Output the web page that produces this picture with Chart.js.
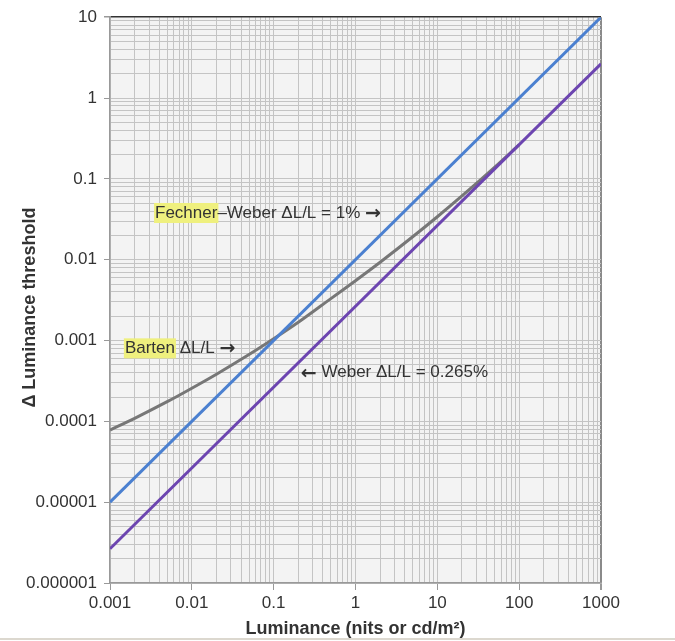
<!DOCTYPE html>
<html>
<head>
<meta charset="utf-8">
<script src="https://cdn.jsdelivr.net/npm/chart.js@4/dist/chart.umd.min.js"></script>
<style>
  html, body { margin: 0; padding: 0; background: #fff; }
  #wrap { width: 675px; height: 641px; position: relative; }
  #wrap canvas { display: block; }
  #sep { width: 675px; height: 2px; background: #dcd8cf; }
</style>
</head>
<body>
<div id="wrap">
  <canvas id="c" width="675" height="638"></canvas>
  <div id="sep"></div>
</div>
<script>
// ---- Data ----
const lineX = [0.001, 1000];
const fechnerWeber = [0.00001, 10];          // ΔL/L = 1%
const weber = [0.00000265, 2.65];            // ΔL/L = 0.265%
const bartenX = [0.001, 0.002, 0.005, 0.01, 0.02, 0.05, 0.1, 0.2, 0.5, 1, 2, 5, 10, 20, 50, 100];
const bartenY = [0.000078, 0.000109, 0.000175, 0.000257, 0.000383, 0.00067, 0.00105, 0.00168, 0.0033, 0.0055, 0.0093, 0.0192, 0.0340, 0.0615, 0.139, 0.265];
const xTickLabels = ['0.001', '0.01', '0.1', '1', '10', '100', '1000'];
const yTickLabels = ['0.000001', '0.00001', '0.0001', '0.001', '0.01', '0.1', '1', '10'];
const xTitle = 'Luminance (nits or cd/m\u00B2)';
const yTitle = '\u0394 Luminance threshold';
const notes = [
  { text: 'Fechner\u2013Weber \u0394L/L = 1% \u2192', highlight: 'Fechner', x: 0.00355, y: 0.0378 },
  { text: 'Barten \u0394L/L \u2192', highlight: 'Barten', x: 0.00152, y: 0.00080 },
  { text: '\u2190 Weber \u0394L/L = 0.265%', highlight: null, x: 0.215, y: 0.00040 }
];

// ---- helpers ----
function logTicks(minExp, maxExp) {
  const out = [];
  for (let e = minExp; e < maxExp; e++) {
    for (let m = 1; m <= 9; m++) out.push(Number((m * Math.pow(10, e)).toPrecision(12)));
  }
  out.push(Number(Math.pow(10, maxExp).toPrecision(12)));
  return out;
}
function isDecade(v) {
  const l = Math.log10(v);
  return Math.abs(l - Math.round(l)) < 1e-9;
}
const pts = (xs, ys) => xs.map((x, i) => ({ x: x, y: ys[i] }));

const FONT = '"Liberation Sans", Arial, Helvetica, sans-serif';
const ARROW_FONT = 'bold 19px "DejaVu Sans", sans-serif';

const bgPlugin = {
  id: 'bg',
  beforeDraw(chart) {
    const { ctx, chartArea: a } = chart;
    ctx.save();
    ctx.fillStyle = '#f3f3f3';
    ctx.fillRect(a.left, a.top, a.right - a.left, a.bottom - a.top);
    ctx.restore();
  }
};

const notePlugin = {
  id: 'notes',
  afterDatasetsDraw(chart) {
    const { ctx } = chart;
    const xs = chart.scales.x, ys = chart.scales.y;
    ctx.save();
    ctx.textBaseline = 'middle';
    ctx.textAlign = 'left';
    notes.forEach(n => {
      const px = xs.getPixelForValue(n.x), py = ys.getPixelForValue(n.y);
      if (n.highlight) {
        ctx.font = '17px ' + FONT;
        const w = ctx.measureText(n.highlight).width;
        ctx.fillStyle = '#eff07e';
        ctx.fillRect(px - 1, py - 10, w + 2, 20);
      }
      // split into runs: arrows drawn with a font whose arrow glyph is larger
      const runs = [];
      for (const ch of n.text) {
        const isArrow = ch === '\u2192' || ch === '\u2190';
        const last = runs[runs.length - 1];
        if (last && last.arrow === isArrow) last.s += ch; else runs.push({ s: ch, arrow: isArrow });
      }
      let cx = px;
      ctx.fillStyle = '#333333';
      runs.forEach(r => {
        ctx.font = r.arrow ? ARROW_FONT : ('17px ' + FONT);
        ctx.fillText(r.s, cx, r.arrow ? py + 1 : py);
        cx += ctx.measureText(r.s).width;
      });
    });
    ctx.restore();
  }
};

new Chart(document.getElementById('c'), {
  type: 'line',
  data: {
    datasets: [
      { label: 'Weber 0.265%', data: pts(lineX, weber), borderColor: '#6c45b0', borderWidth: 3, pointRadius: 0, tension: 0 },
      { label: 'Fechner-Weber 1%', data: pts(lineX, fechnerWeber), borderColor: '#4b80d0', borderWidth: 3, pointRadius: 0, tension: 0 },
      { label: 'Barten', data: pts(bartenX, bartenY), borderColor: '#777777', borderWidth: 3, pointRadius: 0, cubicInterpolationMode: 'monotone' }
    ]
  },
  options: {
    responsive: false,
    animation: false,
    layout: { padding: { top: 11, right: 74, left: 0, bottom: 0 } },
    plugins: { legend: { display: false }, tooltip: { enabled: false } },
    scales: {
      x: {
        type: 'logarithmic',
        min: 0.001, max: 1000,
        afterBuildTicks: s => { s.ticks = logTicks(-3, 3).map(v => ({ value: v })); },
        afterFit: s => { s.height = 55; },
        ticks: {
          autoSkip: false, maxRotation: 0, minRotation: 0, padding: 3,
          color: '#333', font: { family: FONT, size: 17 },
          callback: v => isDecade(v) ? xTickLabels[Math.round(Math.log10(v)) + 3] : ''
        },
        grid: {
          color: c => (c.tick && Math.abs(c.tick.value - 1000) < 1e-6) ? '#8a8a8a' : '#c4c4c4',
          lineWidth: c => (c.tick && Math.abs(c.tick.value - 1000) < 1e-6) ? 2 : 1,
          tickColor: c => (c.tick && isDecade(c.tick.value)) ? '#999' : 'rgba(0,0,0,0)',
          tickLength: 7
        },
        border: { color: '#999', width: 1.5 },
        title: {
          display: true, text: xTitle, color: '#333',
          font: { family: FONT, size: 18, weight: 'bold', lineHeight: 1 },
          padding: { top: 0, bottom: 0 }
        }
      },
      y: {
        type: 'logarithmic',
        min: 0.000001, max: 10,
        afterBuildTicks: s => { s.ticks = logTicks(-6, 1).map(v => ({ value: v })); },
        afterFit: s => { s.width = 110; },
        ticks: {
          autoSkip: false, padding: 7,
          color: '#333', font: { family: FONT, size: 17 },
          callback: v => isDecade(v) ? yTickLabels[Math.round(Math.log10(v)) + 6] : ''
        },
        grid: {
          color: c => (c.tick && Math.abs(c.tick.value - 10) < 1e-9) ? '#333' : '#c4c4c4',
          lineWidth: c => (c.tick && Math.abs(c.tick.value - 10) < 1e-9) ? 1.5 : 1,
          tickColor: c => (c.tick && isDecade(c.tick.value)) ? '#999' : 'rgba(0,0,0,0)',
          tickLength: 6
        },
        border: { color: '#999', width: 1.5 },
        title: {
          display: true, text: yTitle + '   ', color: '#333',
          font: { family: FONT, size: 18, weight: 'bold', lineHeight: 1.2 },
          padding: { top: 19, bottom: 0 }
        }
      }
    }
  },
  plugins: [bgPlugin, notePlugin]
});
</script>
</body>
</html>
